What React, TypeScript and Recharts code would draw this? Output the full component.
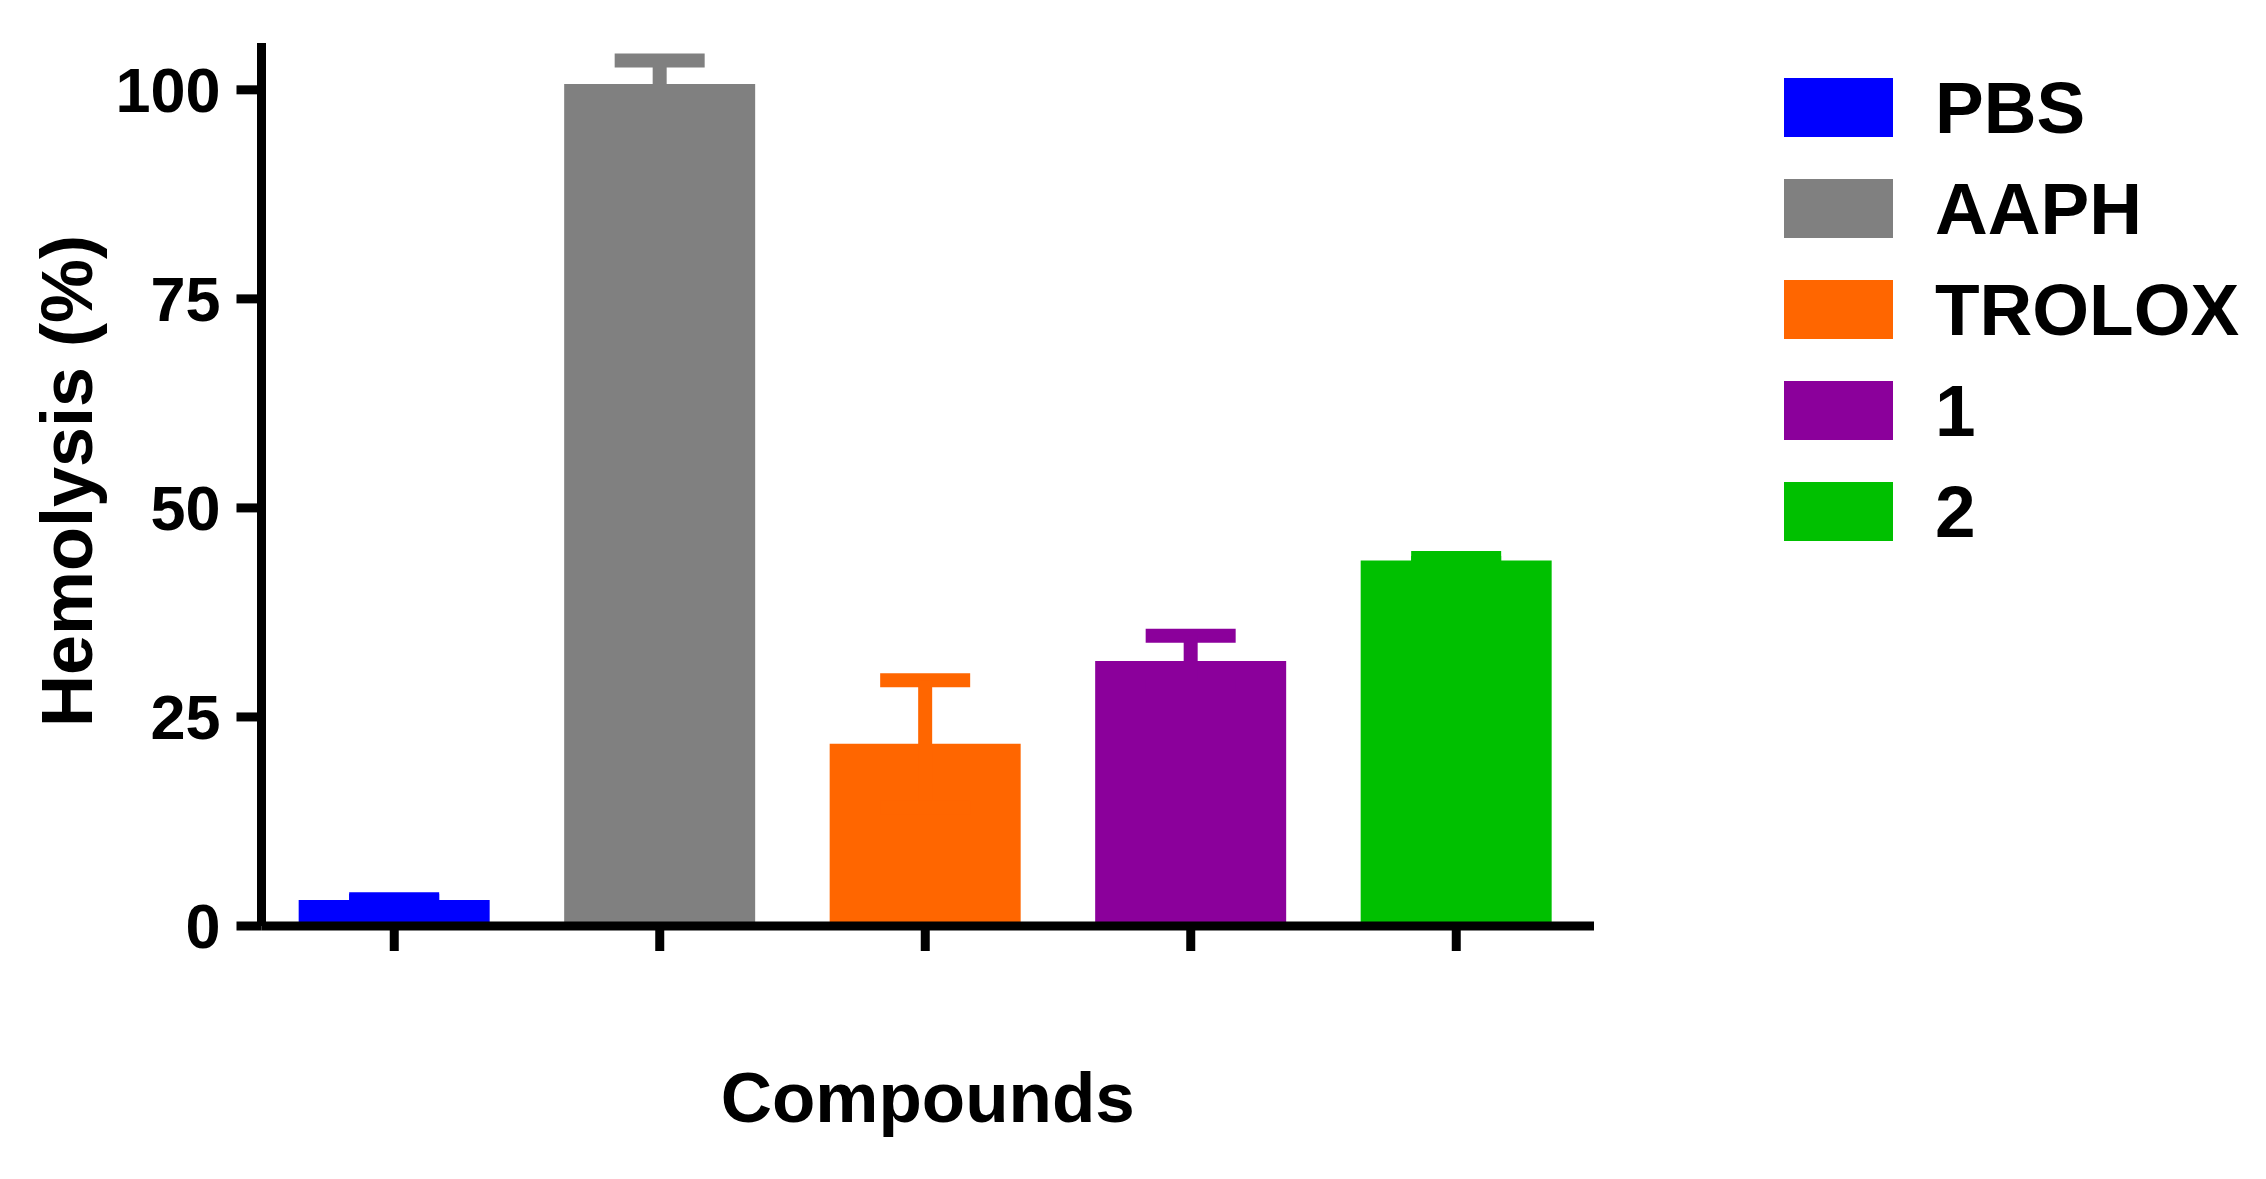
import { Bar, BarChart, ErrorBar, Label, Legend, XAxis, YAxis } from 'recharts';

const CATEGORIES = ['PBS', 'AAPH', 'TROLOX', '1', '2'];
const MEANS = [3.1, 100.7, 21.8, 31.7, 43.7];
const ERRORS = [0.1, 2.8, 7.6, 3.0, 0.3];
const COLORS = ['#0000ff', '#808080', '#ff6600', '#8b009b', '#00c000'];
const Y_TICKS = [0, 25, 50, 75, 100];

const FONT = '"Liberation Sans", Arial, sans-serif';

// one series per compound, stacked so each keeps the full category slot
const data = CATEGORIES.map((name, i) => {
  const row: Record<string, string | number> = { name };
  CATEGORIES.forEach((_c, j) => {
    row[`v${j}`] = i === j ? MEANS[i] : 0;
  });
  row[`e${i}`] = ERRORS[i];
  return row;
});

const axisStroke = { stroke: '#000', strokeWidth: 9 };

function LegendBox() {
  return (
    <div style={{ fontFamily: FONT, fontWeight: 700 }}>
      {CATEGORIES.map((name, i) => (
        <div key={name} style={{ display: 'flex', alignItems: 'flex-start', height: 101 }}>
          <span style={{ display: 'inline-block', width: 109, height: 59, background: COLORS[i] }} />
          <span style={{ marginLeft: 42, fontSize: 73, lineHeight: '59px', color: '#000' }}>{name}</span>
        </div>
      ))}
    </div>
  );
}

export default function App() {
  return (
    <div style={{ position: 'relative', width: 2266, height: 1179, background: '#fff' }}>
      <style>{'body{margin:0}'}</style>
      <BarChart
        width={2266}
        height={1179}
        data={data}
        margin={{ top: 43, right: 672, left: 0, bottom: 0 }}
        barCategoryGap="14%"
      >
        <XAxis
          dataKey="name"
          height={253}
          padding={{ left: 0, right: 5 }}
          axisLine={axisStroke}
          tickLine={axisStroke}
          tickSize={25}
          tickFormatter={() => ''}
        >
          <Label
            value="Compounds"
            position="insideBottom"
            offset={57}
            fontSize={71}
            fontWeight={700}
            fontFamily={FONT}
            fill="#000"
          />
        </XAxis>
        <YAxis
          width={261.5}
          domain={[0, 105.6]}
          ticks={Y_TICKS}
          interval={0}
          axisLine={axisStroke}
          tickLine={axisStroke}
          tickSize={25}
          tickMargin={16}
          tick={{ fontSize: 63, fontWeight: 700, fontFamily: FONT, fill: '#000' }}
        >
          <Label
            content={() => (
              <text
                x={92}
                y={481}
                transform="rotate(-90 92 481)"
                textAnchor="middle"
                fontSize={72}
                fontWeight={700}
                fontFamily={FONT}
                fill="#000"
              >
                Hemolysis (%)
              </text>
            )}
          />
        </YAxis>
        <Legend
          layout="horizontal"
          verticalAlign="middle"
          content={() => <LegendBox />}
          wrapperStyle={{ left: 1784, top: 78, width: 480 }}
        />
        {CATEGORIES.map((name, i) => (
          <Bar
            key={name}
            dataKey={`v${i}`}
            name={name}
            stackId="a"
            fill={COLORS[i]}
            isAnimationActive={false}
          >
            <ErrorBar
              dataKey={`e${i}`}
              width={45}
              strokeWidth={14}
              stroke={COLORS[i]}
              direction="y"
              isAnimationActive={false}
            />
          </Bar>
        ))}
      </BarChart>
    </div>
  );
}
